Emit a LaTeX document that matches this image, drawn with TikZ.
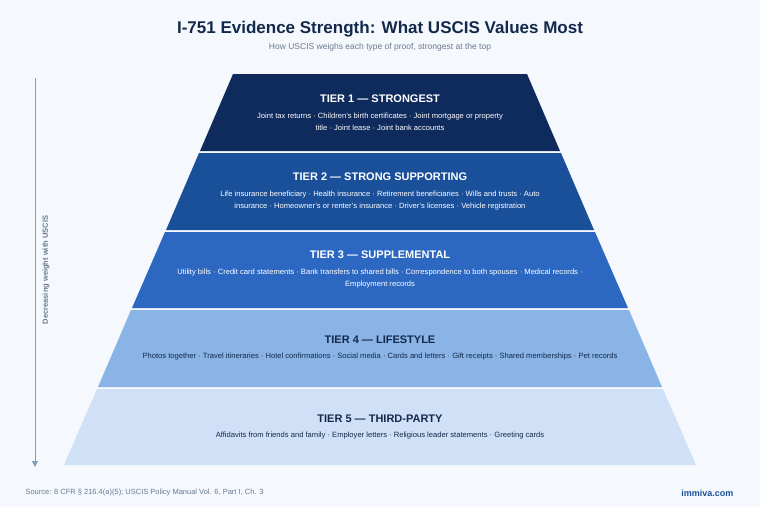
\documentclass[tikz,border=0pt]{standalone}
\usepackage{fontspec}
\setmainfont{Liberation Sans}
\usetikzlibrary{arrows.meta}
\definecolor{bg}{HTML}{F5F8FD}
\definecolor{navy}{HTML}{13294B}
\definecolor{tA}{HTML}{0F2A5C}
\definecolor{tB}{HTML}{1A4F9A}
\definecolor{tC}{HTML}{2C68C2}
\definecolor{tD}{HTML}{8AB4E6}
\definecolor{tE}{HTML}{D0E1F7}
\definecolor{grayt}{HTML}{6B7A90}
\definecolor{arr}{HTML}{8A9BB8}
\definecolor{link}{HTML}{1A4F9A}
\tikzset{x=1pt,y=-1pt,
 head/.style={font=\bfseries\fontsize{11}{13}\selectfont},
 body/.style={font=\fontsize{7.6}{12}\selectfont,align=center},
 tier/.style={draw=none}}
\begin{document}
\begin{tikzpicture}
\fill[bg] (0,0) rectangle (760,507);
\useasboundingbox (0,0) rectangle (760,507);
\node[font=\bfseries\fontsize{17}{20}\selectfont,text=navy] (title) at (380,29) {I-751 Evidence Strength: What USCIS Values Most};
\node[font=\fontsize{8.5}{10}\selectfont,text=grayt] (sub) at (380,47) {How USCIS weighs each type of proof, strongest at the top};
% tiers
\fill[tA] (233,74) -- (527,74) -- (560,151) -- (200,151) -- cycle;
\fill[tB] (199,153) -- (561,153) -- (594,230) -- (166,230) -- cycle;
\fill[tC] (165,232) -- (595,232) -- (628,308) -- (132,308) -- cycle;
\fill[tD] (131,310) -- (629,310) -- (662,387) -- (98,387) -- cycle;
\fill[tE] (97,389) -- (663,389) -- (696,465) -- (64,465) -- cycle;
\node[head,text=white] (h1) at (380,99) {TIER 1 — STRONGEST};
\node[body,text=white] (b1) at (380,122) {Joint tax returns · Children's birth certificates · Joint mortgage or property\\title · Joint lease · Joint bank accounts};
\node[head,text=white] (h2) at (380,177) {TIER 2 — STRONG SUPPORTING};
\node[body,text=white] (b2) at (380,201) {Life insurance beneficiary · Health insurance · Retirement beneficiaries · Wills and trusts · Auto\\insurance · Homeowner's or renter's insurance · Driver's licenses · Vehicle registration};
\node[head,text=white] (h3) at (380,255) {TIER 3 — SUPPLEMENTAL};
\node[body,text=white] (b3) at (380,279) {Utility bills · Credit card statements · Bank transfers to shared bills · Correspondence to both spouses · Medical records ·\\Employment records};
\node[head,text=navy] (h4) at (380,340) {TIER 4 — LIFESTYLE};
\node[body,text=navy] (b4) at (380,357) {Photos together · Travel itineraries · Hotel confirmations · Social media · Cards and letters · Gift receipts · Shared memberships · Pet records};
\node[head,text=navy] (h5) at (380,419) {TIER 5 — THIRD-PARTY};
\node[body,text=navy] (b5) at (380,436) {Affidavits from friends and family · Employer letters · Religious leader statements · Greeting cards};
% arrow
\coordinate (a1) at (35,78);
\coordinate (a2) at (35,467);
\draw[arr,line width=1pt,-{Triangle[length=6pt,width=6pt]}] (a1) -- (a2);
\node[rotate=90,font=\bfseries\fontsize{7.5}{9}\selectfont,text=grayt] (lab) at (46,270) {Decreasing weight with USCIS};
\node[anchor=west,font=\fontsize{7.5}{9}\selectfont,text=grayt] (src) at (22,493) {Source: 8 CFR § 216.4(a)(5); USCIS Policy Manual Vol. 6, Part I, Ch. 3};
\node[anchor=east,font=\bfseries\fontsize{9}{11}\selectfont,text=link] (im) at (737,493) {immiva.com};
\end{tikzpicture}
\end{document}
